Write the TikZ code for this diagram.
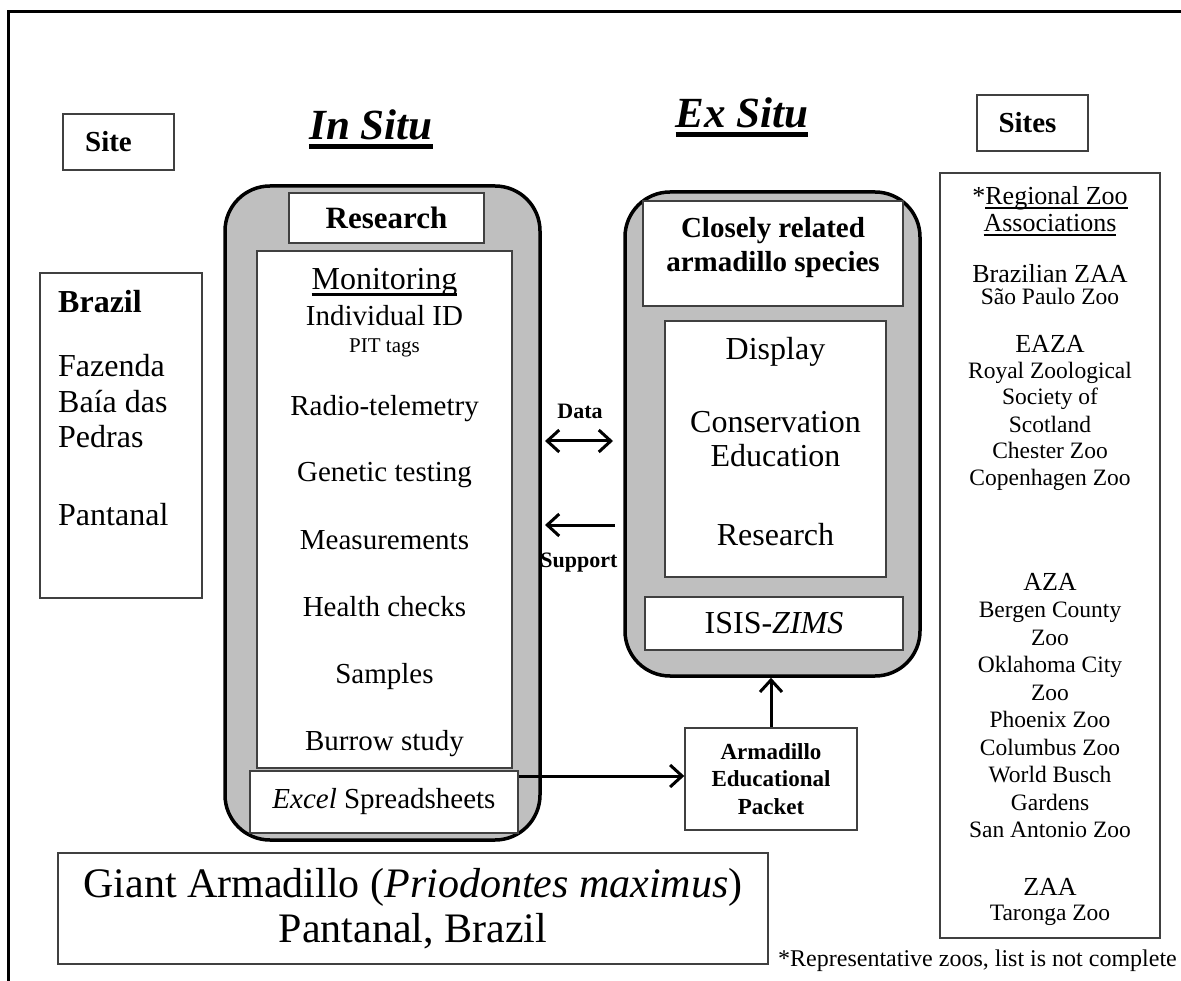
\documentclass[tikz,border=0pt]{standalone}
\usepackage{fontspec}
\setmainfont{Liberation Serif}
\usetikzlibrary{arrows.meta}
\newcommand\fs[2]{\fontsize{#1}{#2}\selectfont}
\newcommand\myul[3]{\setbox0=\hbox{#3}\rlap{\rule[-#1]{\wd0}{#2}}\box0}
\begin{document}
\begin{tikzpicture}[x=1pt,y=-1pt,
  bx/.style={draw=black!75,line width=1.4pt,fill=white,inner sep=0pt,align=center},
  rbox/.style={draw=black,line width=3.5pt,fill=black!25,rounded corners=45pt,inner sep=0pt},
  lbl/.style={inner sep=0pt,anchor=base,align=center},
  lblw/.style={inner sep=0pt,anchor=base west},
  arr/.style={line width=3pt,-{Straight Barb[length=12pt,width=22pt]}},
  darr/.style={line width=3pt,{Straight Barb[length=12pt,width=22pt]}-{Straight Barb[length=12pt,width=22pt]}}]
\useasboundingbox (0,0) rectangle (1181,981);
% frame
\draw[line width=3pt] (8.5,981) -- (8.5,11.5) -- (1181,11.5);
% titles
\node[lbl,font=\fs{43}{50}\bfseries\itshape] (tin) at (371,140) {\myul{9pt}{4.5pt}{In Situ}};
\node[lbl,font=\fs{43}{50}\bfseries\itshape] (tex) at (742,128) {\myul{9pt}{4.5pt}{Ex Situ}};
% site boxes
\node[bx,minimum width=111,minimum height=56,font=\fs{29}{34}\bfseries] (site) at (118.5,142) {Site\hspace{20pt}};
\node[bx,minimum width=111,minimum height=56,font=\fs{29}{34}\bfseries] (sites) at (1032.5,123) {Sites\hspace{10pt}};
% Brazil box
\node[bx,minimum width=162,minimum height=325] (brazil) at (121,435.5) {};
\node[lblw,font=\fs{32}{36}\bfseries] (br1) at (58,313) {Brazil};
\node[lblw,font=\fs{32}{36}] (br2) at (58,377) {Fazenda};
\node[lblw,font=\fs{32}{36}] (br3) at (58,413) {Baía das};
\node[lblw,font=\fs{32}{36}] (br4) at (58,448) {Pedras};
\node[lblw,font=\fs{32}{36}] (br5) at (58,525) {Pantanal};
% In situ rounded box
\node[rbox,minimum width=315,minimum height=654] (insitu) at (382.5,513) {};
\node[bx,minimum width=195,minimum height=50,font=\fs{31}{36}\bfseries] (research) at (386.5,218) {Research};
\node[bx,minimum width=255,minimum height=517] (monit) at (384.5,509.5) {};
\node[lbl,font=\fs{32}{36}] (m0) at (384.5,290) {\myul{6pt}{2.5pt}{Monitoring}};
\node[lbl,font=\fs{29}{34}] (m1) at (384.5,326) {Individual ID};
\node[lbl,font=\fs{21}{24}] (m2) at (384.5,353) {PIT tags};
\node[lbl,font=\fs{29}{34}] (m3) at (384.5,416) {Radio-telemetry};
\node[lbl,font=\fs{29}{34}] (m4) at (384.5,482) {Genetic testing};
\node[lbl,font=\fs{29}{34}] (m5) at (384.5,549) {Measurements};
\node[lbl,font=\fs{29}{34}] (m6) at (384.5,616) {Health checks};
\node[lbl,font=\fs{29}{34}] (m7) at (384.5,683) {Samples};
\node[lbl,font=\fs{29}{34}] (m8) at (384.5,750) {Burrow study};
\node[bx,minimum width=268,minimum height=62,font=\fs{29}{34}] (excel) at (384,802) {\textit{Excel} Spreadsheets};
% Ex situ rounded box
\node[rbox,minimum width=295,minimum height=484] (exsitu) at (772.5,434) {};
\node[bx,minimum width=260,minimum height=105] (close) at (773,253.5) {};
\node[lbl,font=\fs{29}{34}\bfseries] (cl) at (773,272) {Closely related\\armadillo species};
\node[bx,minimum width=221,minimum height=256] (display) at (775.5,449) {};
\node[lbl,font=\fs{32}{34}] (d1) at (775.5,360) {Display};
\node[lbl,font=\fs{32}{34}] (d2) at (775.5,467) {Conservation\\Education};
\node[lbl,font=\fs{32}{34}] (d3) at (775.5,545) {Research};
\node[bx,minimum width=258,minimum height=53,font=\fs{32}{36}] (isis) at (774,623.5) {ISIS-\textit{ZIMS}};
% packet
\node[bx,minimum width=172,minimum height=102,font=\fs{23}{27.5}\bfseries] (packet) at (771,779) {Armadillo\\Educational\\Packet};
% data / support
\coordinate (da) at (545,441);
\coordinate (db) at (613,441);
\coordinate (sa) at (615,525);
\coordinate (sb) at (545,525);
\draw[darr] (da) -- (db);
\draw[arr] (sa) -- (sb);
\node[lbl,font=\fs{22}{24}\bfseries] (data) at (580,419) {Data};
\node[lbl,font=\fs{22}{24}\bfseries] (support) at (579,567) {Support};
\draw[arr] (packet.west -| excel.east) ++(0,-3) -- ([yshift=3pt]packet.west);
\draw[arr] (packet.north) -- (packet.north |- exsitu.south);
% zoo list
\node[bx,minimum width=220,minimum height=765] (zoos) at (1050,555.5) {};
\foreach \n/\y/\s/\t in {
  z1/205/26/{*\myul{4.5pt}{2pt}{Regional Zoo}},
  z2/232/26/{\myul{4.5pt}{2pt}{Associations}},
  z3/283/26/{Brazilian ZAA},
  z4/305/23.5/{São Paulo Zoo},
  z5/353/26/{EAZA},
  z6/379/23.5/{Royal Zoological},
  z7/405/23.5/{Society of},
  z8/432/23.5/{Scotland},
  z9/459/23.5/{Chester Zoo},
  z10/485/23.5/{Copenhagen Zoo},
  z11/590/26/{AZA},
  z12/617/23.5/{Bergen County},
  z13/645/23.5/{Zoo},
  z14/672/23.5/{Oklahoma City},
  z15/700/23.5/{Zoo},
  z16/727/23.5/{Phoenix Zoo},
  z17/755/23.5/{Columbus Zoo},
  z18/782/23.5/{World Busch},
  z19/810/23.5/{Gardens},
  z20/837/23.5/{San Antonio Zoo},
  z21/895/26/{ZAA},
  z22/920/23.5/{Taronga Zoo}}
  \node[lbl,font=\fs{\s}{\s}] (\n) at (1050,\y) {\t};
% title
\node[bx,minimum width=710,minimum height=111,font=\fs{42}{45}] (title) at (413,908.5) {Giant Armadillo (\textit{Priodontes maximus})\\Pantanal, Brazil};
% footnote
\node[inner sep=0pt,anchor=base east,font=\fs{24}{26}] (foot) at (1177,966) {*Representative zoos, list is not complete};
\end{tikzpicture}
\end{document}
